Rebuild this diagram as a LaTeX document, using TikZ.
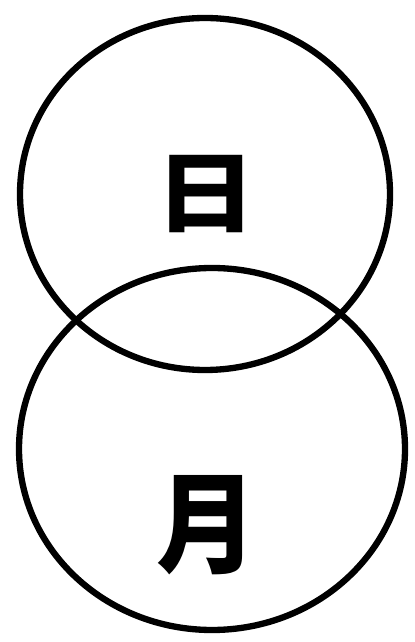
\documentclass[tikz,border=0pt]{standalone}
\usepackage{fontspec}
\usepackage{tikz}
\newfontfamily\cjk{Noto Sans CJK SC}
\definecolor{tusche}{HTML}{000000}
\tikzset{
  kreis/.style={draw=tusche,line width=3.6pt},
  zeichen/.style={tusche,font=\cjk\bfseries\fontsize{50}{50}\selectfont,inner sep=0pt},
}

\begin{document}
\begin{tikzpicture}
  \useasboundingbox (0,0) rectangle (8.28,12.84);
  \draw[kreis] (4.10,8.96) ellipse [x radius=3.70,y radius=3.52];
  \draw[kreis] (4.24,3.86) ellipse [x radius=3.86,y radius=3.62];
  \node[zeichen,xscale=1.15] (ri) at (4.12,8.96) {日};
  \node[zeichen,xscale=1.15,yscale=1.25] (yue) at (4.14,2.34) {月};
\end{tikzpicture}
\end{document}
